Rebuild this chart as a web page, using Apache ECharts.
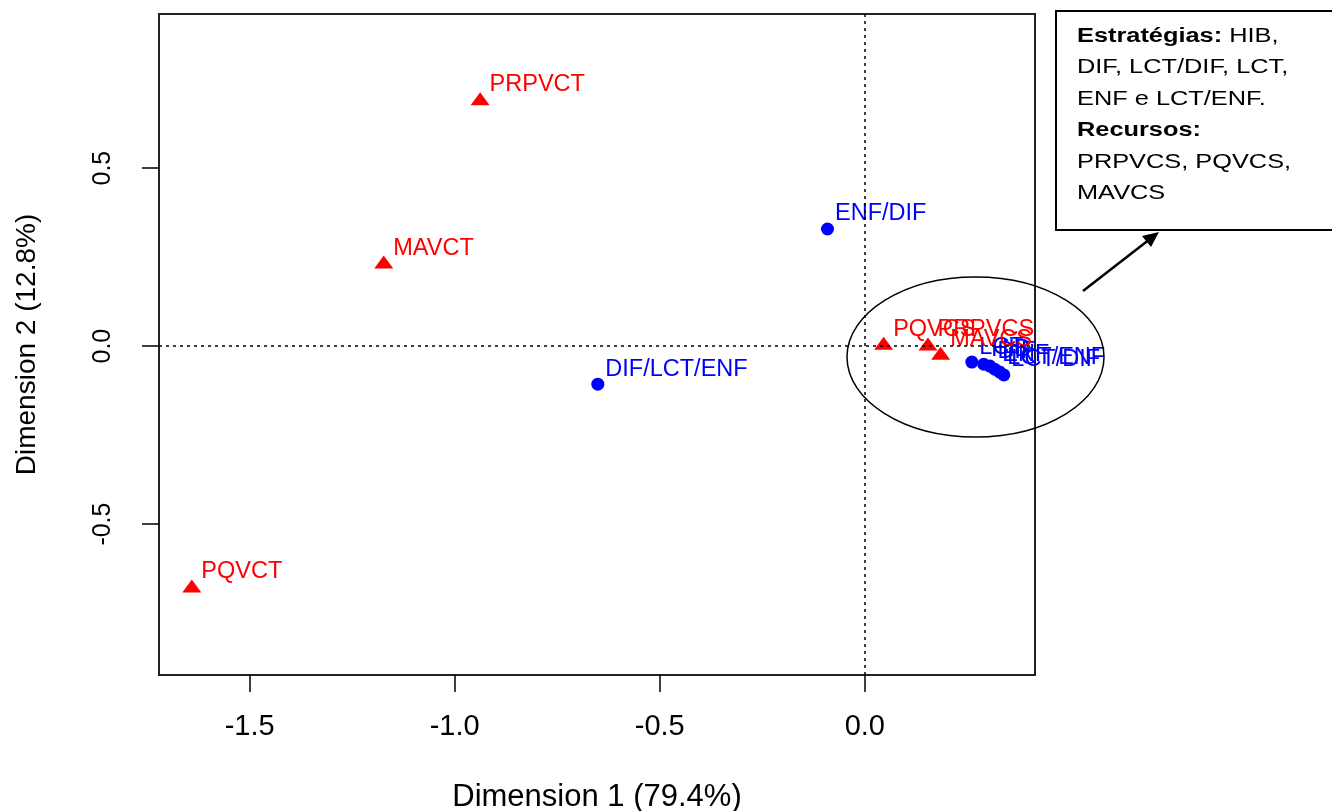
<!DOCTYPE html>
<html>
<head>
<meta charset="utf-8">
<script src="https://cdn.jsdelivr.net/npm/echarts@6/dist/echarts.min.js"></script>
<style>
  html, body { margin: 0; padding: 0; background: #fff; }
  #chart { width: 1332px; height: 811px; }
</style>
</head>
<body>
<div id="chart"></div>
<script>
// Strategies (blue circles)
var stratNames = ['ENF/DIF', 'DIF/LCT/ENF', 'LCT', 'HIB', 'DIF', 'ENF', 'LCT/ENF', 'LCT/DIF'];
var stratX = [-0.091, -0.651, 0.261, 0.290, 0.305, 0.317, 0.329, 0.339];
var stratY = [0.329, -0.107, -0.045, -0.051, -0.056, -0.065, -0.073, -0.081];

// Resources (red triangles)
var resNames = ['PRPVCT', 'MAVCT', 'PQVCT', 'PQVCS', 'PRPVCS', 'MAVCS'];
var resX = [-0.938, -1.173, -1.641, 0.046, 0.154, 0.185];
var resY = [0.695, 0.236, -0.674, 0.008, 0.006, -0.020];

// Axis ticks
var xTicks = [-1.5, -1.0, -0.5, 0.0];
var yTicks = [-0.5, 0.0, 0.5];

var xName = 'Dimension 1 (79.4%)';
var yName = 'Dimension 2 (12.8%)';

var noteLines = ['{b|Estratégias:} HIB,', 'DIF, LCT/DIF, LCT,', 'ENF e LCT/ENF.', '{b|Recursos:}', 'PRPVCS, PQVCS,', 'MAVCS'];

function pts(names, xs, ys) {
  return names.map(function (n, i) { return { name: n, value: [xs[i], ys[i]] }; });
}

var FONT = "'Liberation Sans', Arial, sans-serif";
var chart = echarts.init(document.getElementById('chart'), null, { renderer: 'canvas' });

var option = {
  animation: false,
  backgroundColor: '#fff',
  grid: {
    left: 159, right: 297, top: 14, bottom: 136,
    outerBoundsMode: 'none', containLabel: false,
    show: true, borderColor: '#222', borderWidth: 2, backgroundColor: 'transparent'
  },
  xAxis: {
    type: 'value', min: -1.721, max: 0.415,
    name: xName, nameLocation: 'middle', nameGap: 107,
    nameTextStyle: { fontFamily: FONT, fontSize: 31, color: '#000' },
    axisLine: { show: false, onZero: false },
    splitLine: { show: false },
    axisTick: { show: true, inside: false, length: 17, customValues: xTicks, lineStyle: { color: '#000', width: 1.5 } },
    axisLabel: { customValues: xTicks, margin: 37, fontFamily: FONT, fontSize: 29, color: '#000',
      formatter: function (v) { return v.toFixed(1); } }
  },
  yAxis: {
    type: 'value', min: -0.924, max: 0.933,
    name: yName, nameLocation: 'middle', nameGap: 118, nameRotate: 90,
    nameTextStyle: { fontFamily: FONT, fontSize: 28, color: '#000' },
    axisLine: { show: false, onZero: false },
    splitLine: { show: false },
    axisTick: { show: true, inside: false, length: 17, customValues: yTicks, lineStyle: { color: '#000', width: 1.5 } },
    axisLabel: { customValues: yTicks, margin: 43, rotate: 90, fontFamily: FONT, fontSize: 25, color: '#000',
      formatter: function (v) { return v.toFixed(1); } }
  },
  series: [
    {
      name: 'ref', type: 'scatter', data: [], silent: true,
      markLine: {
        silent: true, symbol: 'none', label: { show: false },
        lineStyle: { color: '#000', type: [3, 4], width: 1.5, opacity: 1 },
        data: [{ xAxis: 0 }, { yAxis: 0 }]
      }
    },
    {
      name: 'Estratégias', type: 'scatter', symbol: 'circle', symbolSize: 13,
      itemStyle: { color: '#0000FF', opacity: 1 },
      label: { show: true, position: 'right', distance: 1, offset: [0, -15],
        formatter: '{b}', fontFamily: FONT, fontSize: 23.5, color: '#0000FF' },
      data: pts(stratNames, stratX, stratY)
    },
    {
      name: 'Recursos', type: 'scatter', symbol: 'triangle', symbolSize: [19, 13],
      itemStyle: { color: '#FF0000', opacity: 1 },
      label: { show: true, position: 'right', distance: 0, offset: [0, -14],
        formatter: '{b}', fontFamily: FONT, fontSize: 23.5, color: '#FF0000' },
      data: pts(resNames, resX, resY)
    }
  ],
  graphic: [
    { type: 'ellipse', shape: { cx: 975.5, cy: 357, rx: 128.5, ry: 80 },
      style: { fill: 'none', stroke: '#000', lineWidth: 1.5 }, z: 50 },
    { type: 'line', shape: { x1: 1083, y1: 291, x2: 1150, y2: 239 },
      style: { stroke: '#000', lineWidth: 2.5 }, z: 50 },
    { type: 'polygon', shape: { points: [[1159, 232], [1142, 236], [1151, 247]] },
      style: { fill: '#000' }, z: 50 },
    { type: 'rect', shape: { x: 1056, y: 11, width: 320, height: 219 },
      style: { fill: '#fff', stroke: '#000', lineWidth: 2 }, z: 50 },
    { type: 'text', x: 1077, y: 21, scaleX: 1.3, z: 51,
      style: {
        text: noteLines.join('\n'),
        fontFamily: FONT, fontSize: 19.5, lineHeight: 31.4, fill: '#000',
        rich: { b: { fontFamily: FONT, fontSize: 19.5, fontWeight: 'bold', lineHeight: 31.4, fill: '#000' } }
      } }
  ]
};
chart.setOption(option);
</script>
</body>
</html>
